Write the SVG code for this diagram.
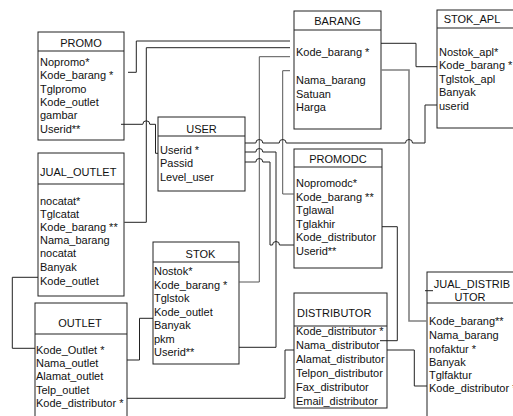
<svg xmlns="http://www.w3.org/2000/svg" width="513" height="416" viewBox="0 0 513 416">
  <style>
    .box { fill: #ffffff; stroke: #222222; stroke-width: 1; }
    .div { stroke: #222222; stroke-width: 1.2; }
    text { font-family: "Liberation Sans", Arial, sans-serif; font-size: 11px; fill: #111111; }
    .title { text-anchor: middle; }
    .wire { fill: none; stroke: #222222; stroke-width: 1; }
    .wire-grey { fill: none; stroke: #555555; stroke-width: 1; }
    .wire-thick { fill: none; stroke: #808080; stroke-width: 1.6; }
  </style>
  <rect width="513" height="416" fill="#ffffff"/>

  <!-- tables -->
  <g id="promo">
    <rect class="box" x="38" y="32" width="86" height="108"/>
    <line class="div" x1="38" y1="51" x2="124" y2="51"/>
    <text class="title" x="81" y="47">PROMO</text>
    <text x="40" y="65.5">Nopromo*</text>
    <text x="40" y="79">Kode_barang *</text>
    <text x="40" y="92.5">Tglpromo</text>
    <text x="40" y="106">Kode_outlet</text>
    <text x="40" y="119">gambar</text>
    <text x="40" y="132.5">Userid**</text>
  </g>

  <g id="barang">
    <rect class="box" x="294" y="11" width="87" height="118"/>
    <line class="div" x1="294" y1="30" x2="381" y2="30"/>
    <text class="title" x="337.5" y="25">BARANG</text>
    <text x="296" y="56">Kode_barang *</text>
    <text x="296" y="84">Nama_barang</text>
    <text x="296" y="97.5">Satuan</text>
    <text x="296" y="111">Harga</text>
  </g>

  <g id="stok_apl">
    <rect class="box" x="437" y="10" width="80" height="118"/>
    <line class="div" x1="437" y1="28" x2="517" y2="28"/>
    <text class="title" x="472" y="23">STOK_APL</text>
    <text x="439" y="55.5">Nostok_apl*</text>
    <text x="439" y="69">Kode_barang *</text>
    <text x="439" y="82.5">Tglstok_apl</text>
    <text x="439" y="96">Banyak</text>
    <text x="439" y="109.5">userid</text>
  </g>

  <g id="user">
    <rect class="box" x="158" y="117" width="87" height="74"/>
    <line class="div" x1="158" y1="136" x2="245" y2="136"/>
    <text class="title" x="201.5" y="133">USER</text>
    <text x="160" y="154">Userid *</text>
    <text x="160" y="167">Passid</text>
    <text x="160" y="180.5">Level_user</text>
  </g>

  <g id="jual_outlet">
    <rect class="box" x="38" y="153" width="86" height="143"/>
    <line class="div" x1="38" y1="184" x2="124" y2="184"/>
    <text x="40" y="176">JUAL_OUTLET</text>
    <text x="40" y="205">nocatat*</text>
    <text x="40" y="218">Tglcatat</text>
    <text x="40" y="231">Kode_barang **</text>
    <text x="40" y="244">Nama_barang</text>
    <text x="40" y="257">nocatat</text>
    <text x="40" y="271">Banyak</text>
    <text x="40" y="284.5">Kode_outlet</text>
  </g>

  <g id="promodc">
    <rect class="box" x="294" y="149" width="88" height="119"/>
    <line class="div" x1="294" y1="167" x2="382" y2="167"/>
    <text class="title" x="338" y="163">PROMODC</text>
    <text x="296" y="187">Nopromodc*</text>
    <text x="296" y="200.5">Kode_barang **</text>
    <text x="296" y="214">Tglawal</text>
    <text x="296" y="227.5">Tglakhir</text>
    <text x="296" y="241">Kode_distributor</text>
    <text x="296" y="254.5">Userid**</text>
  </g>

  <g id="stok">
    <rect class="box" x="153" y="242" width="86" height="122"/>
    <line class="div" x1="153" y1="262" x2="239" y2="262"/>
    <text class="title" x="200.5" y="258">STOK</text>
    <text x="154" y="275">Nostok*</text>
    <text x="154" y="288.5">Kode_barang *</text>
    <text x="154" y="302">Tglstok</text>
    <text x="154" y="315.5">Kode_outlet</text>
    <text x="154" y="329">Banyak</text>
    <text x="154" y="342.5">pkm</text>
    <text x="154" y="356">Userid**</text>
  </g>

  <g id="outlet">
    <rect class="box" x="35" y="303" width="92" height="120"/>
    <line class="div" x1="35" y1="334" x2="127" y2="334"/>
    <text class="title" x="80" y="327">OUTLET</text>
    <text x="36" y="353.5">Kode_Outlet *</text>
    <text x="36" y="367">Nama_outlet</text>
    <text x="36" y="380">Alamat_outlet</text>
    <text x="36" y="393.5">Telp_outlet</text>
    <text x="36" y="407">Kode_distributor *</text>
  </g>

  <g id="distributor">
    <rect class="box" x="294" y="293" width="93" height="115"/>
    <line class="div" x1="294" y1="326" x2="387" y2="326"/>
    <text x="297" y="317">DISTRIBUTOR</text>
    <text x="296" y="335">Kode_distributor *</text>
    <text x="296" y="349">Nama_distributor</text>
    <text x="296" y="363">Alamat_distributor</text>
    <text x="296" y="377">Telpon_distributor</text>
    <text x="296" y="391">Fax_distributor</text>
    <text x="296" y="405">Email_distributor</text>
  </g>

  <g id="jual_distributor">
    <rect class="box" x="427" y="272" width="90" height="150"/>
    <line class="div" x1="427" y1="303" x2="517" y2="303"/>
    <text class="title" x="472" y="288">JUAL_DISTRIB</text>
    <text class="title" x="470" y="300.5">UTOR</text>
    <text x="429" y="325">Kode_barang**</text>
    <text x="429" y="339">Nama_barang</text>
    <text x="429" y="352.5">nofaktur *</text>
    <text x="429" y="365.5">Banyak</text>
    <text x="429" y="378.5">Tglfaktur</text>
    <text x="429" y="392">Kode_distributor *</text>
  </g>

  <!-- relationships -->
  <g id="connectors">
    <path class="wire" d="M128,72.3 H136.3 V41 H290"/>
    <path class="wire" d="M290,47.7 H146.3 V222.3 H124.3"/>
    <path class="wire-grey" d="M290,56.7 H259.3 V282 H239"/>
    <path class="wire-grey" d="M290,70.7 H282.7 V194 H294"/>
    <path class="wire" d="M381,43.3 H416 V66.7 H437"/>
    <path class="wire-thick" d="M381,70 H409 V321 H427"/>
    <path class="wire" d="M245,143 H255.8 A3.5,3.5 0 0 1 262.8,143 H279.2 A3.5,3.5 0 0 1 286.2,143 H405.5 A3.5,3.5 0 0 1 412.5,143 H425 V105 H437"/>
    <path class="wire" d="M245,152 H255.8 A3.5,3.5 0 0 1 262.8,152 H276 V347.3 H239"/>
    <path class="wire" d="M245,162 H255.8 A3.5,3.5 0 0 1 262.8,162 H270 V245 H272.5 A3.5,3.5 0 0 1 279.5,245 H294"/>
    <path class="wire" d="M121,124.3 H142.8 A3.5,3.5 0 0 1 149.8,124.3 H155.5 V153.3 H158"/>
    <path class="wire" d="M38,277.3 H12.3 V348.3 H35"/>
    <path class="wire" d="M153,318.3 H139.5 V360 H127"/>
    <path class="wire" d="M127,398.3 H285 V350 H294"/>
    <path class="wire" d="M382,226.7 H397.3 V340.7 H380"/>
    <path class="wire" d="M387,350 H414.3 V386 H427"/>
    <path class="wire" d="M425,290.7 H433"/>
  </g>
</svg>
